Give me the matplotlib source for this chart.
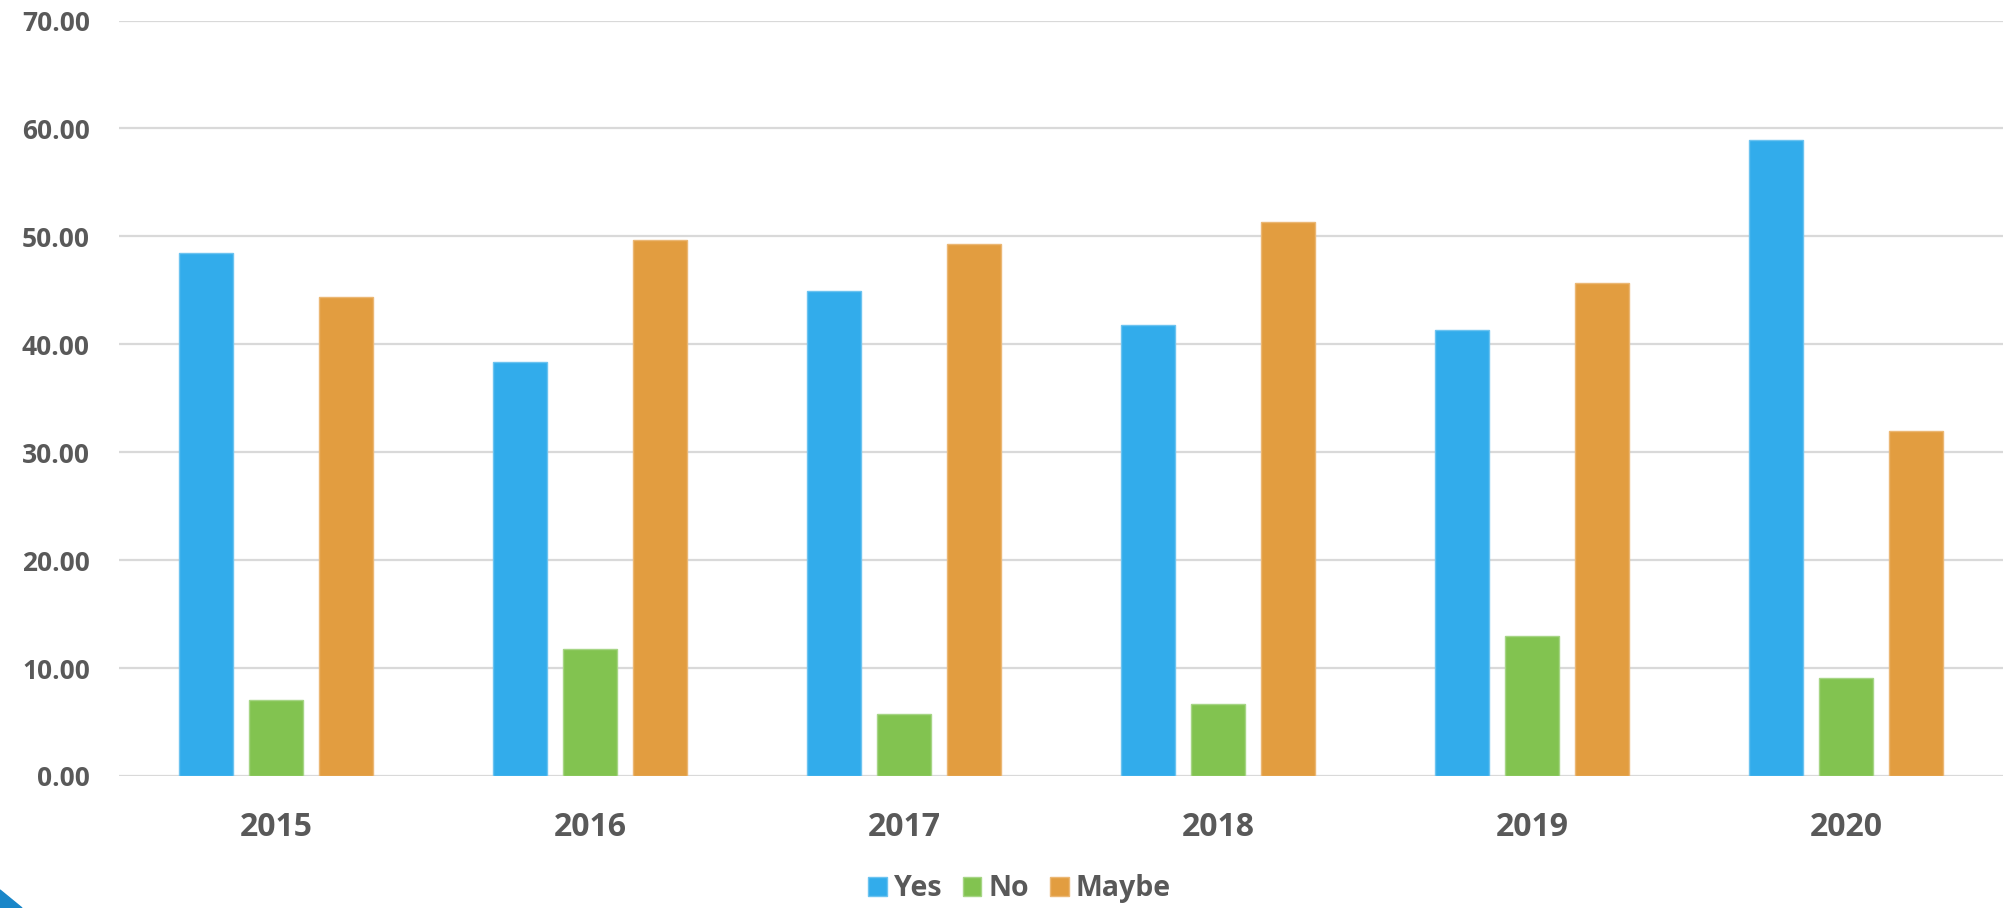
import numpy as np
import matplotlib.pyplot as plt
from matplotlib.patches import Polygon

#==================== data ====================
years = ['2015', '2016', '2017', '2018', '2019', '2020']
yes   = [48.5, 38.4, 44.9, 41.8, 41.3, 58.9]
no    = [7.0, 11.8, 5.7, 6.65, 13.0, 9.05]
maybe = [44.4, 49.7, 49.3, 51.3, 45.7, 32.0]

series = [('Yes', yes, '#32ACEB', '#6cc3f0'),
          ('No', no, '#82C350', '#a6d585'),
          ('Maybe', maybe, '#E29D40', '#ebb774')]

txt_col = '#595959'
plt.rcParams['font.family'] = ['Open Sans', 'DejaVu Sans']

#==================== plot ====================
fig = plt.figure(figsize=(20.11, 9.08), dpi=100)
ax = fig.add_axes([0.0592, 0.1454, 0.9368, 0.832])

x = np.arange(len(years))
step, width = 0.223, 0.172
for i, (name, vals, col, edge) in enumerate(series):
    ax.bar(x + (i - 1) * step, vals, width, color=col, edgecolor=edge,
           linewidth=1, label=name, zorder=3)

ax.set_xlim(-0.5, len(years) - 0.5)
ax.set_ylim(0, 70)
ax.set_yticks(np.arange(0, 71, 10))
ax.set_yticklabels([f'{v:.2f}' for v in np.arange(0, 71, 10)])
ax.set_xticks(x)
ax.set_xticklabels(years)
ax.grid(axis='y', color='#d9d9d9', linewidth=1.6, zorder=0)
for s in ax.spines.values():
    s.set_visible(False)
ax.tick_params(axis='both', length=0, colors=txt_col)
ax.tick_params(axis='y', labelsize=19, pad=21)
ax.tick_params(axis='x', labelsize=23, pad=25)
for lab in ax.get_xticklabels() + ax.get_yticklabels():
    lab.set_fontweight('bold')

leg = fig.legend(loc='center', bbox_to_anchor=(0.507, 0.021), ncol=3,
                 frameon=False, prop={'size': 20.5, 'weight': 'bold'},
                 handlelength=0.65, handleheight=0.65, handletextpad=0.25,
                 columnspacing=0.75)
for t in leg.get_texts():
    t.set_color(txt_col)

# corner decoration
fig.patches.append(Polygon([[0, 0], [0, 18 / 908], [22 / 2011, 0]],
                           closed=True, transform=fig.transFigure,
                           color='#1a86c8'))

fig.savefig('out.png', dpi=100)
